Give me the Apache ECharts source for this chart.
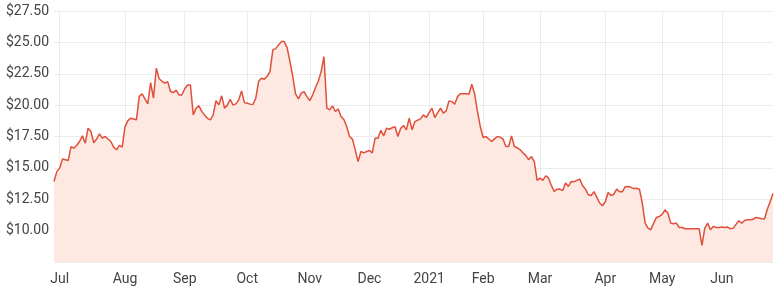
<!DOCTYPE html>
<html>
<head>
<meta charset="utf-8">
<script src="https://cdn.jsdelivr.net/npm/echarts@6/dist/echarts.min.js"></script>
<style>
html,body{margin:0;padding:0;background:#fff;}
#chart{width:780px;height:292px;}
</style>
</head>
<body>
<div id="chart"></div>
<script>
// Trading-day categories (ASX): first and last day, plus exchange holidays
var startDate = '2020-06-29';
var endDate = '2021-06-28';
var holidays = ['2020-12-25','2020-12-28','2021-01-01','2021-01-26','2021-04-02','2021-04-05','2021-06-14'];
var monthNames = ['Jan','Feb','Mar','Apr','May','Jun','Jul','Aug','Sep','Oct','Nov','Dec'];

// Closing prices, one per trading day
var prices = [
13.92,14.70,14.98,15.70,15.65,15.59,16.70,16.57,16.80,17.10,
17.55,16.97,18.16,17.90,17.00,17.30,17.70,17.37,17.50,17.30,
17.10,16.65,16.44,16.80,16.65,18.29,18.77,18.96,18.90,18.83,
20.70,20.90,20.50,20.10,21.80,20.55,22.94,22.10,21.90,21.75,
21.87,21.08,21.00,21.20,20.81,20.81,21.30,21.60,21.60,19.22,
19.76,19.94,19.50,19.20,18.95,18.83,19.20,20.36,20.02,20.74,
19.76,20.00,20.47,20.00,20.10,20.42,21.13,20.20,20.15,20.08,
20.05,20.55,21.90,22.14,22.06,22.30,22.67,24.40,24.50,24.80,
25.06,25.06,24.60,23.50,22.30,20.90,20.50,20.95,21.08,20.68,
20.36,20.80,21.40,21.90,22.67,23.86,19.76,19.62,19.94,19.49,
19.70,19.10,18.85,18.29,17.50,17.29,16.44,15.50,16.30,16.20,
16.30,16.38,16.20,17.37,17.37,18.00,17.55,18.16,18.08,18.20,
18.29,17.50,18.16,18.37,18.03,18.96,18.03,18.69,18.80,18.90,
19.22,19.01,19.40,19.76,19.01,19.40,19.76,19.36,19.54,20.34,
20.28,20.07,20.68,20.90,20.90,20.90,20.87,21.66,20.90,19.50,
18.30,17.42,17.50,17.30,17.10,17.31,17.50,17.45,17.30,16.70,
16.70,17.55,16.70,16.60,16.45,16.20,16.00,15.65,15.90,15.50,
14.00,14.18,14.00,14.37,14.20,13.60,13.12,13.30,13.31,13.20,
13.79,13.52,13.92,13.90,14.00,14.10,13.60,13.30,12.86,12.80,
13.10,12.67,12.20,11.98,12.32,13.04,12.80,12.90,13.31,13.10,
13.10,13.50,13.52,13.45,13.35,13.37,13.30,12.20,10.60,10.20,
10.07,10.60,11.05,11.13,11.30,11.66,11.40,10.60,10.55,10.60,
10.25,10.25,10.15,10.15,10.15,10.15,10.15,10.15,8.82,10.20,
10.60,10.07,10.33,10.25,10.25,10.28,10.25,10.28,10.15,10.20,
10.50,10.79,10.60,10.81,10.87,10.87,10.90,11.05,11.00,10.95,
10.92,11.70,12.30,12.95
];

var yMin = 7.5, yMax = 27.5, yStep = 2.5;

function pad(n){return (n<10?'0':'')+n;}
function buildDates(){
  var out = [];
  var p = startDate.split('-'), e = endDate.split('-');
  var d = new Date(Date.UTC(+p[0], +p[1]-1, +p[2]));
  var end = new Date(Date.UTC(+e[0], +e[1]-1, +e[2]));
  while (d <= end) {
    var s = d.getUTCFullYear()+'-'+pad(d.getUTCMonth()+1)+'-'+pad(d.getUTCDate());
    var wd = d.getUTCDay();
    if (wd !== 0 && wd !== 6 && holidays.indexOf(s) < 0) out.push(s);
    d = new Date(d.getTime() + 86400000);
  }
  return out;
}
var dates = buildDates();

function isMonthStart(i){
  if (i === 0) return false;
  return dates[i].slice(5,7) !== dates[i-1].slice(5,7);
}

var chart = echarts.init(document.getElementById('chart'), null, {renderer:'canvas'});
chart.setOption({
  animation: false,
  grid: {left: 54, right: 7, top: 11, bottom: 30, containLabel: false},
  xAxis: {
    type: 'category',
    data: dates,
    boundaryGap: false,
    axisLine: {show: false},
    axisTick: {show: false},
    axisLabel: {
      interval: function(i){ return isMonthStart(i); },
      formatter: function(v){
        var m = +v.slice(5,7);
        return m === 1 ? v.slice(0,4) : monthNames[m-1];
      },
      color: '#444',
      fontFamily: 'Roboto',
      fontSize: 14,
      margin: 10
    },
    splitLine: {
      show: true,
      interval: function(i){ return isMonthStart(i); },
      lineStyle: {color: '#ececec', width: 1}
    }
  },
  yAxis: {
    type: 'value',
    min: yMin, max: yMax, interval: yStep,
    axisLine: {show: false},
    axisTick: {show: false},
    axisLabel: {
      showMinLabel: false,
      formatter: function(v){ return '$' + v.toFixed(2); },
      color: '#444',
      fontFamily: 'Roboto',
      fontSize: 14,
      margin: 5
    },
    splitLine: {lineStyle: {color: '#ececec', width: 1}}
  },
  series: [{
    type: 'line',
    data: prices,
    showSymbol: false,
    symbol: 'none',
    lineStyle: {color: '#e0503a', width: 1.5},
    areaStyle: {color: '#fde8e2', opacity: 1, origin: 'start'}
  }]
});
</script>
</body>
</html>
